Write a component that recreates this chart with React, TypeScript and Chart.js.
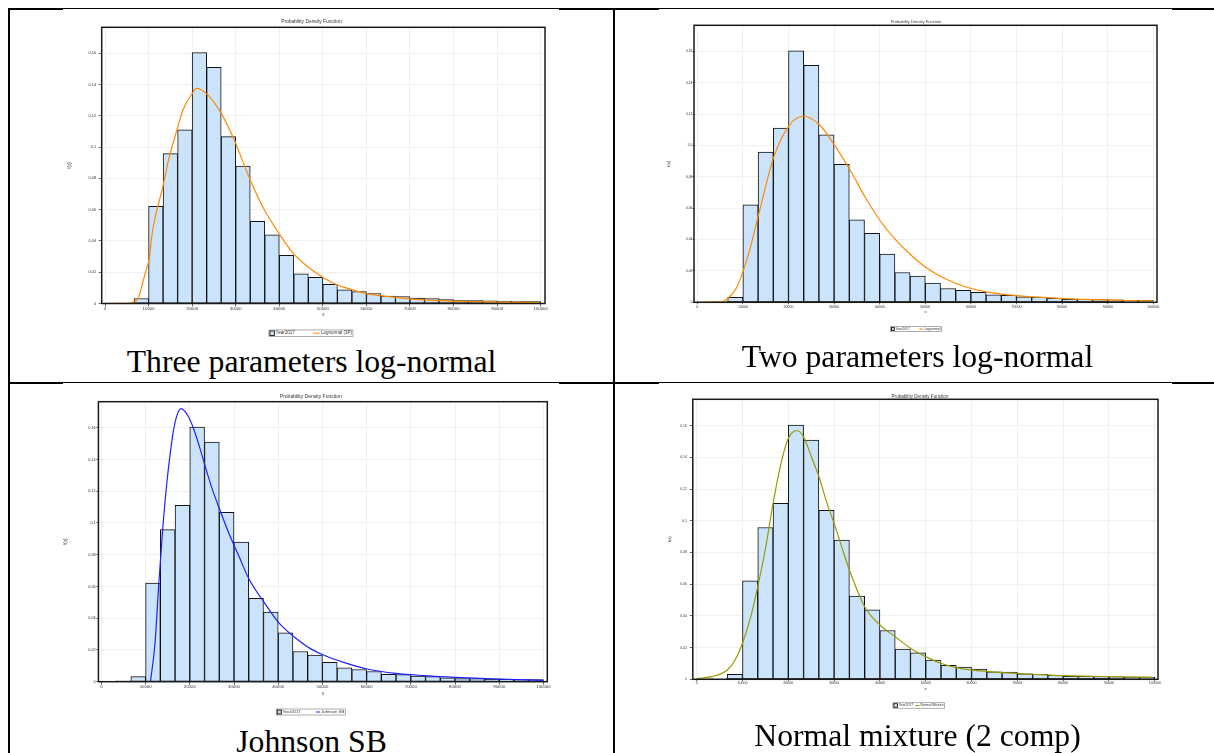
import React, { useEffect, useRef } from "react";
import { Chart, registerables } from "chart.js";

Chart.register(...registerables);

// ---------- data ----------
const BIN_CENTERS = [1667, 5000, 8333, 11667, 15000, 18333, 21667, 25000, 28333, 31667, 35000, 38333, 41667, 45000, 48333, 51667, 55000, 58333, 61667, 65000, 68333, 71667, 75000, 78333, 81667, 85000, 88333, 91667, 95000, 98333];
const YEAR2017_DENSITY = [0.0003, 0.0005, 0.0032, 0.0621, 0.0958, 0.1111, 0.1604, 0.151, 0.1067, 0.0879, 0.0525, 0.0439, 0.0308, 0.019, 0.0167, 0.0122, 0.0088, 0.0077, 0.0064, 0.0047, 0.0045, 0.0035, 0.0032, 0.0025, 0.0019, 0.0019, 0.0017, 0.0015, 0.0013, 0.0013];

const X_TICKS = [0, 10000, 20000, 30000, 40000, 50000, 60000, 70000, 80000, 90000, 100000];
const X_TICK_LABELS = ["0", "10000", "20000", "30000", "40000", "50000", "60000", "70000", "80000", "90000", "100000"];
const Y_TICKS = [0, 0.02, 0.04, 0.06, 0.08, 0.1, 0.12, 0.14, 0.16];
const Y_TICK_LABELS = ["0", "0,02", "0,04", "0,06", "0,08", "0,1", "0,12", "0,14", "0,16"];

const LOGN3_X = [0, 4000, 5500, 6500, 7650, 8800, 9570, 10100, 10940, 13300, 14440, 16710, 17940, 19950, 21000, 23360, 26680, 29300, 30000, 33330, 36570, 39900, 43220, 46540, 49870, 53200, 56520, 59840, 63170, 69820, 76470, 83110, 89760, 99560];
const LOGN3_Y = [0, 0.0001, 0.0003, 0.001, 0.0035, 0.015, 0.0226, 0.028, 0.047, 0.075, 0.09, 0.113, 0.124, 0.134, 0.1376, 0.134, 0.1216, 0.107, 0.1024, 0.079, 0.06, 0.045, 0.032, 0.0235, 0.017, 0.012, 0.009, 0.0064, 0.005, 0.003, 0.0019, 0.0013, 0.0009, 0.0006];

const LOGN2_X = [0, 3500, 5650, 7100, 8550, 10000, 11450, 13510, 16780, 20220, 23240, 26850, 30120, 33560, 36830, 40100, 43460, 46900, 50000, 53360, 56800, 60070, 63340, 66700, 69960, 76590, 83050, 90360, 100000];
const LOGN2_Y = [0, 0.0002, 0.0006, 0.0037, 0.009, 0.0194, 0.033, 0.0567, 0.0927, 0.113, 0.1186, 0.113, 0.1, 0.084, 0.067, 0.052, 0.04, 0.03, 0.0225, 0.0165, 0.012, 0.0088, 0.0066, 0.0052, 0.0043, 0.003, 0.002, 0.0014, 0.0008];

const JSB_X = [11100, 12120, 12990, 13850, 14720, 15580, 16450, 18010, 19480, 20780, 22080, 23550, 25110, 26840, 29000, 31170, 33330, 36800, 40260, 43720, 47190, 50220, 54980, 60170, 66670, 73160, 80090, 87010, 93940, 100000];
const JSB_Y = [0, 0.024, 0.062, 0.0955, 0.123, 0.144, 0.1606, 0.172, 0.168, 0.16, 0.149, 0.135, 0.121, 0.108, 0.0924, 0.0787, 0.065, 0.05, 0.0367, 0.028, 0.021, 0.0168, 0.012, 0.008, 0.0052, 0.0038, 0.0027, 0.0019, 0.0013, 0.0008];

const MIX_X = [0, 3330, 6670, 8380, 10000, 11800, 13330, 14960, 16670, 18380, 20000, 21880, 23330, 25040, 26670, 28460, 30000, 31880, 33330, 36670, 40000, 43330, 46670, 50000, 53250, 56580, 59910, 66580, 73250, 79910, 86580, 93250, 99570];
const MIX_Y = [0.0004, 0.0017, 0.0059, 0.0122, 0.0227, 0.0395, 0.0585, 0.0816, 0.111, 0.136, 0.152, 0.157, 0.153, 0.1405, 0.128, 0.111, 0.0984, 0.0816, 0.069, 0.0458, 0.0343, 0.0269, 0.0196, 0.0143, 0.0101, 0.0074, 0.0059, 0.0042, 0.0032, 0.0023, 0.0019, 0.0015, 0.0013];

const CURVE_LABELS = ["Lognormal (3P)", "Lognormal", "Johnson SB", "Normal Mixture"];
const CAPTIONS = ["Three parameters log-normal", "Two parameters log-normal", "Johnson SB", "Normal mixture (2 comp)"];
const HIST_LABEL = "Year2017";
const CHART_TITLE = "Probability Density Function";

// ---------- styles / layout ----------
const SANS = '"Liberation Sans", Arial, sans-serif';
const SERIF = '"Liberation Serif", "Times New Roman", serif';
const BAR_FILL = "#cce4fb";

const CURVES = [
  { xs: LOGN3_X, ys: LOGN3_Y, color: "#ff8a00" },
  { xs: LOGN2_X, ys: LOGN2_Y, color: "#ff8a00" },
  { xs: JSB_X, ys: JSB_Y, color: "#1f1fff" },
  { xs: MIX_X, ys: MIX_Y, color: "#9a9a00" },
];

const PANELS = [
  {
    canvas: { left: 40, top: 12, width: 540, height: 330 },
    pad: { left: 27.3, top: 15.3, right: 35, bottom: 24.3 },
    yW: 34.4, xH: 14.2, xMin: -760, xMax: 100990, yMax: 0.1766,
    xTickFont: 4.3, yTickFont: 3.8, axisTitleFont: 4.5,
    xTickLen: 3, xTickPad: 0.2, yTickLen: 3, yTickPad: 2.7,
    title: { x: 311.5, y: 22, size: 4.9 },
    legend: { cx: 310.9, cy: 333.2, w: 84, h: 6.5, font: 4.5, lineW: 6.6 },
  },
  {
    canvas: { left: 640, top: 12, width: 540, height: 330 },
    pad: { left: 26.1, top: 13.3, right: 23, bottom: 27.9 },
    yW: 27.9, xH: 11.8, xMin: -724, xMax: 100811, yMax: 0.1766,
    xTickFont: 3.6, yTickFont: 3.4, axisTitleFont: 4,
    xTickLen: 2, xTickPad: 0.2, yTickLen: 1.5, yTickPad: 0,
    title: { x: 916, y: 21.7, size: 4.1 },
    legend: { cx: 916, cy: 329, w: 51, h: 4.8, font: 3.4, lineW: 4 },
  },
  {
    canvas: { left: 40, top: 388, width: 540, height: 335 },
    pad: { left: 23.1, top: 13.7, right: 32.7, bottom: 27 },
    yW: 35.3, xH: 14.3, xMin: -680, xMax: 100880, yMax: 0.1764,
    xTickFont: 4.3, yTickFont: 3.8, axisTitleFont: 4.5,
    xTickLen: 3, xTickPad: 0, yTickLen: 2, yTickPad: 0.7,
    title: { x: 310.8, y: 397, size: 5 },
    legend: { cx: 310.8, cy: 712, w: 69, h: 6, font: 4.3, lineW: 3.8 },
  },
  {
    canvas: { left: 640, top: 388, width: 540, height: 335 },
    pad: { left: 27.3, top: 11.3, right: 22, bottom: 31.6 },
    yW: 25.5, xH: 12.1, xMin: -850, xMax: 100700, yMax: 0.1767,
    xTickFont: 3.6, yTickFont: 3.4, axisTitleFont: 4,
    xTickLen: 1.8, xTickPad: 0, yTickLen: 3, yTickPad: 3,
    title: { x: 920, y: 396.7, size: 4.6 },
    legend: { cx: 918.7, cy: 705.5, w: 51.7, h: 5.6, font: 3.4, lineW: 4 },
  },
];

const CAPTION_POS = [
  { left: 10, top: 346.3, width: 603 },
  { left: 615, top: 341, width: 605 },
  { left: 10, top: 726, width: 603 },
  { left: 615, top: 720, width: 605 },
];

function makeDecor(p: any, curveLabel: string, curveColor: string) {
  return {
    id: "decor",
    afterDatasetsDraw(chart: any) {
      const { ctx, chartArea: a } = chart;
      ctx.save();
      ctx.strokeStyle = "#1a1a1a";
      ctx.lineWidth = 1.5;
      ctx.strokeRect(a.left, a.top, a.right - a.left, a.bottom - a.top);
      ctx.restore();
    },
    afterDraw(chart: any) {
      const ctx = chart.ctx;
      const ox = p.canvas.left;
      const oy = p.canvas.top;
      ctx.save();
      ctx.fillStyle = "#333";
      ctx.font = `${p.title.size}px ${SANS}`;
      ctx.textAlign = "center";
      ctx.textBaseline = "middle";
      ctx.fillText(CHART_TITLE, p.title.x - ox, p.title.y - oy);

      const lg = p.legend;
      ctx.font = `${lg.font}px ${SANS}`;
      const t1 = ctx.measureText(HIST_LABEL).width;
      const t2 = ctx.measureText(curveLabel).width;
      const pad = 1;
      const sq = lg.h - 2;
      const g = 1.2;
      const content = pad + sq + g + t1 + lg.lineW + g + t2 + pad;
      const extra = Math.max(2, lg.w - content);
      const w = content + extra;
      const x0 = lg.cx - w / 2 - ox;
      const y0 = lg.cy - lg.h / 2 - oy;
      ctx.fillStyle = "#fff";
      ctx.fillRect(x0, y0, w, lg.h);
      ctx.strokeStyle = "#9a9a9a";
      ctx.lineWidth = 0.8;
      ctx.strokeRect(x0, y0, w, lg.h);
      const cy = y0 + lg.h / 2;
      let x = x0 + pad;
      ctx.fillStyle = BAR_FILL;
      ctx.fillRect(x, cy - sq / 2, sq, sq);
      ctx.strokeStyle = "#111";
      ctx.lineWidth = 0.9;
      ctx.strokeRect(x, cy - sq / 2, sq, sq);
      x += sq + g;
      ctx.fillStyle = "#333";
      ctx.textAlign = "left";
      ctx.fillText(HIST_LABEL, x, cy);
      x += t1 + extra;
      ctx.strokeStyle = curveColor;
      ctx.lineWidth = 1;
      ctx.beginPath();
      ctx.moveTo(x, cy);
      ctx.lineTo(x + lg.lineW, cy);
      ctx.stroke();
      x += lg.lineW + g;
      ctx.fillStyle = "#333";
      ctx.fillText(curveLabel, x, cy);
      ctx.restore();
    },
  };
}

function Panel({ index }: { index: number }) {
  const ref = useRef<HTMLCanvasElement | null>(null);
  const p: any = PANELS[index];
  const curve = CURVES[index];
  useEffect(() => {
    if (!ref.current) return;
    const chart = new Chart(ref.current, {
      type: "bar",
      data: {
        datasets: [
          {
            type: "line",
            label: CURVE_LABELS[index],
            data: curve.xs.map((x, i) => ({ x, y: curve.ys[i] })),
            borderColor: curve.color,
            borderWidth: 1.2,
            pointRadius: 0,
            fill: false,
            cubicInterpolationMode: "monotone",
            order: 1,
          } as any,
          {
            type: "bar",
            label: HIST_LABEL,
            data: BIN_CENTERS.map((x, i) => ({ x, y: YEAR2017_DENSITY[i] })),
            backgroundColor: BAR_FILL,
            borderColor: "#111",
            borderWidth: 1,
            borderSkipped: false,
            barPercentage: 1,
            categoryPercentage: 1,
            order: 2,
          } as any,
        ],
      },
      options: {
        responsive: false,
        animation: false,
        devicePixelRatio: 1,
        layout: { padding: p.pad },
        plugins: {
          legend: { display: false },
          title: { display: false },
          tooltip: { enabled: false },
        },
        scales: {
          x: {
            type: "linear",
            min: p.xMin,
            max: p.xMax,
            offset: false,
            afterBuildTicks: (s: any) => {
              s.ticks = X_TICKS.map((v) => ({ value: v }));
            },
            afterFit: (s: any) => {
              s.height = p.xH;
            },
            grid: { color: "#ececec", lineWidth: 0.8, offset: false, tickLength: p.xTickLen, tickColor: "#444", tickWidth: 0.8 },
            border: { display: false },
            ticks: {
              autoSkip: false,
              maxRotation: 0,
              padding: p.xTickPad,
              color: "#333",
              font: { size: p.xTickFont, family: SANS },
              callback: (_v: any, i: number) => X_TICK_LABELS[i],
            },
            title: { display: true, text: "x", color: "#333", padding: 0, font: { size: p.axisTitleFont, family: SANS } },
          },
          y: {
            type: "linear",
            min: 0,
            max: p.yMax,
            afterBuildTicks: (s: any) => {
              s.ticks = Y_TICKS.map((v) => ({ value: v }));
            },
            afterFit: (s: any) => {
              s.width = p.yW;
            },
            grid: { color: "#ececec", lineWidth: 0.8, tickLength: p.yTickLen, tickColor: "#444", tickWidth: 0.8 },
            border: { display: false },
            ticks: {
              autoSkip: false,
              padding: p.yTickPad,
              color: "#333",
              font: { size: p.yTickFont, family: SANS },
              callback: (_v: any, i: number) => Y_TICK_LABELS[i],
            },
            title: { display: true, text: "f(x)", color: "#333", padding: 0, font: { size: p.axisTitleFont, family: SANS } },
          },
        },
      } as any,
      plugins: [makeDecor(p, CURVE_LABELS[index], curve.color)],
    });
    return () => chart.destroy();
  }, [index]);
  return (
    <canvas
      ref={ref}
      width={p.canvas.width}
      height={p.canvas.height}
      style={{ position: "absolute", left: p.canvas.left, top: p.canvas.top, width: p.canvas.width, height: p.canvas.height }}
    />
  );
}

function HLine({ y }: { y: number }) {
  const segs = [
    [8, 63, 2],
    [63, 559, 1.2],
    [559, 659, 2],
    [659, 1172, 1.2],
    [1172, 1214, 2],
  ];
  return (
    <>
      {segs.map(([a, b, h], i) => (
        <div key={i} style={{ position: "absolute", left: a, top: y, width: b - a, height: h, background: "#000" }} />
      ))}
    </>
  );
}

export default function App() {
  return (
    <div style={{ position: "fixed", left: 0, top: 0, width: 1214, height: 753, overflow: "hidden", background: "#fff" }}>
      <HLine y={8.3} />
      <HLine y={382.3} />
      <div style={{ position: "absolute", left: 8, top: 8.3, width: 2, height: 745, background: "#000" }} />
      <div style={{ position: "absolute", left: 612.7, top: 8.3, width: 2, height: 745, background: "#000" }} />
      {PANELS.map((_, i) => (
        <Panel key={i} index={i} />
      ))}
      {CAPTIONS.map((c, i) => (
        <div
          key={"c" + i}
          style={{
            position: "absolute",
            left: CAPTION_POS[i].left,
            top: CAPTION_POS[i].top,
            width: CAPTION_POS[i].width,
            textAlign: "center",
            fontFamily: SERIF,
            fontSize: "31.7px",
            lineHeight: "32px",
            whiteSpace: "nowrap",
            color: "#000",
          }}
        >
          {c}
        </div>
      ))}
    </div>
  );
}
